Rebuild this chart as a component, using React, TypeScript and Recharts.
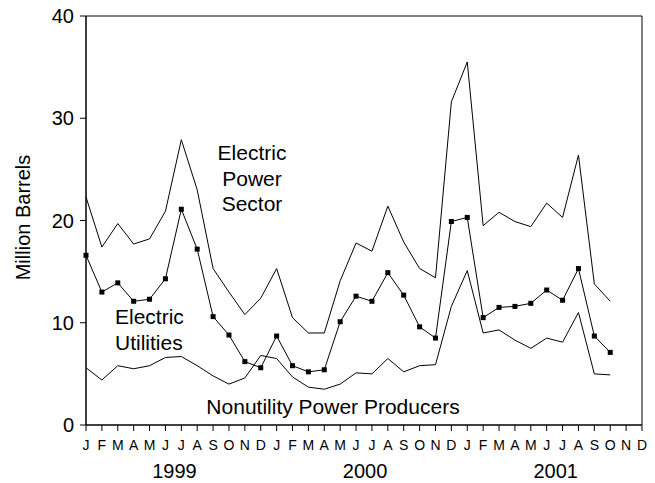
import React from 'react';
import { LineChart, Line, XAxis, YAxis, ReferenceArea } from 'recharts';

// month letters and years along the x axis
const months = ['J', 'F', 'M', 'A', 'M', 'J', 'J', 'A', 'S', 'O', 'N', 'D'];
const years = ['1999', '2000', '2001'];

// million barrels, Jan 1999 - Oct 2001
const powerSector = [
  22.3, 17.4, 19.7, 17.7, 18.2, 20.9, 27.9, 23.0, 15.3, 13.0, 10.8, 12.4,
  15.3, 10.5, 9.0, 9.0, 14.1, 17.8, 17.0, 21.4, 17.9, 15.3, 14.4, 31.6,
  35.5, 19.5, 20.8, 19.9, 19.4, 21.7, 20.3, 26.4, 13.8, 12.1,
];
const utilities = [
  16.6, 13.0, 13.9, 12.1, 12.3, 14.3, 21.1, 17.2, 10.6, 8.8, 6.2, 5.6,
  8.7, 5.8, 5.2, 5.4, 10.1, 12.6, 12.1, 14.9, 12.7, 9.6, 8.5, 19.9,
  20.3, 10.5, 11.5, 11.6, 11.9, 13.2, 12.2, 15.3, 8.7, 7.1,
];
const nonutility = [
  5.6, 4.4, 5.8, 5.5, 5.8, 6.6, 6.7, 5.8, 4.8, 4.0, 4.6, 6.8,
  6.5, 4.7, 3.7, 3.5, 4.0, 5.1, 5.0, 6.5, 5.2, 5.8, 5.9, 11.6,
  15.1, 9.0, 9.3, 8.3, 7.5, 8.5, 8.1, 11.0, 5.0, 4.9,
];
const yTicks = [0, 10, 20, 30, 40];

const data = years.flatMap((yr, yi) =>
  months.map((m, mi) => {
    const i = yi * 12 + mi;
    return {
      key: i,
      month: m,
      year: yr,
      power: powerSector[i],
      util: utilities[i],
      nonutil: nonutility[i],
    };
  })
);

const font = 'Liberation Sans, Arial, sans-serif';

const MonthTick = (props: any) => {
  const { x, y, payload, index } = props;
  const d = data[payload.value];
  return (
    <g>
      <text x={x} y={y + 17} textAnchor="middle" fontSize={14} fill="#000" fontFamily={font}>
        {d.month}
      </text>
      {index % 12 === 5 && (
        <text x={x + 9} y={y + 45} textAnchor="middle" fontSize={20} fill="#000" fontFamily={font}>
          {d.year}
        </text>
      )}
    </g>
  );
};

const SquareDot = (props: any) => {
  const { cx, cy, index } = props;
  if (cx == null || cy == null) return <g key={index} />;
  return <rect key={index} x={cx - 2.5} y={cy - 2.5} width={5} height={5} fill="#000" />;
};

const labelStyle: React.CSSProperties = {
  position: 'absolute',
  fontFamily: font,
  fontSize: 21,
  color: '#000',
  textAlign: 'center',
  lineHeight: '25.5px',
  whiteSpace: 'nowrap',
};

export default function App() {
  return (
    <div style={{ position: 'absolute', left: 0, top: 0, width: 655, height: 483, background: '#fff' }}>
      <LineChart
        width={655}
        height={483}
        data={data}
        margin={{ top: 16, right: 13, bottom: 0, left: 0 }}
      >
        <XAxis
          dataKey="key"
          type="category"
          interval={0}
          height={58}
          tick={<MonthTick />}
          tickLine={{ stroke: '#000' }}
          tickSize={6}
          axisLine={{ stroke: '#000' }}
        />
        <YAxis
          domain={[0, 40]}
          ticks={yTicks}
          width={86}
          tickSize={6}
          tickMargin={6}
          tickLine={{ stroke: '#000' }}
          axisLine={{ stroke: '#000' }}
          tick={{ fontSize: 20, fill: '#000', fontFamily: font }}
          label={{
            value: 'Million Barrels',
            angle: -90,
            position: 'insideLeft',
            dx: 18,
            dy: -3,
            style: { fontSize: 20, fill: '#000', fontFamily: font, textAnchor: 'middle' },
          }}
        />
        <ReferenceArea x1={0} x2={35} y1={0} y2={40} fill="none" stroke="#000" strokeWidth={1} />
        <Line dataKey="power" stroke="#000" strokeWidth={1} dot={false} isAnimationActive={false} />
        <Line dataKey="util" stroke="#000" strokeWidth={1} dot={<SquareDot />} isAnimationActive={false} />
        <Line dataKey="nonutil" stroke="#000" strokeWidth={1} dot={false} isAnimationActive={false} />
      </LineChart>
      <div style={{ ...labelStyle, left: 192, top: 140, width: 120 }}>
        Electric<br />Power<br />Sector
      </div>
      <div style={{ ...labelStyle, left: 115, top: 304, textAlign: 'left', lineHeight: '26px' }}>
        Electric<br />Utilities
      </div>
      <div style={{ ...labelStyle, left: 183, top: 394, width: 300 }}>
        Nonutility Power Producers
      </div>
    </div>
  );
}
